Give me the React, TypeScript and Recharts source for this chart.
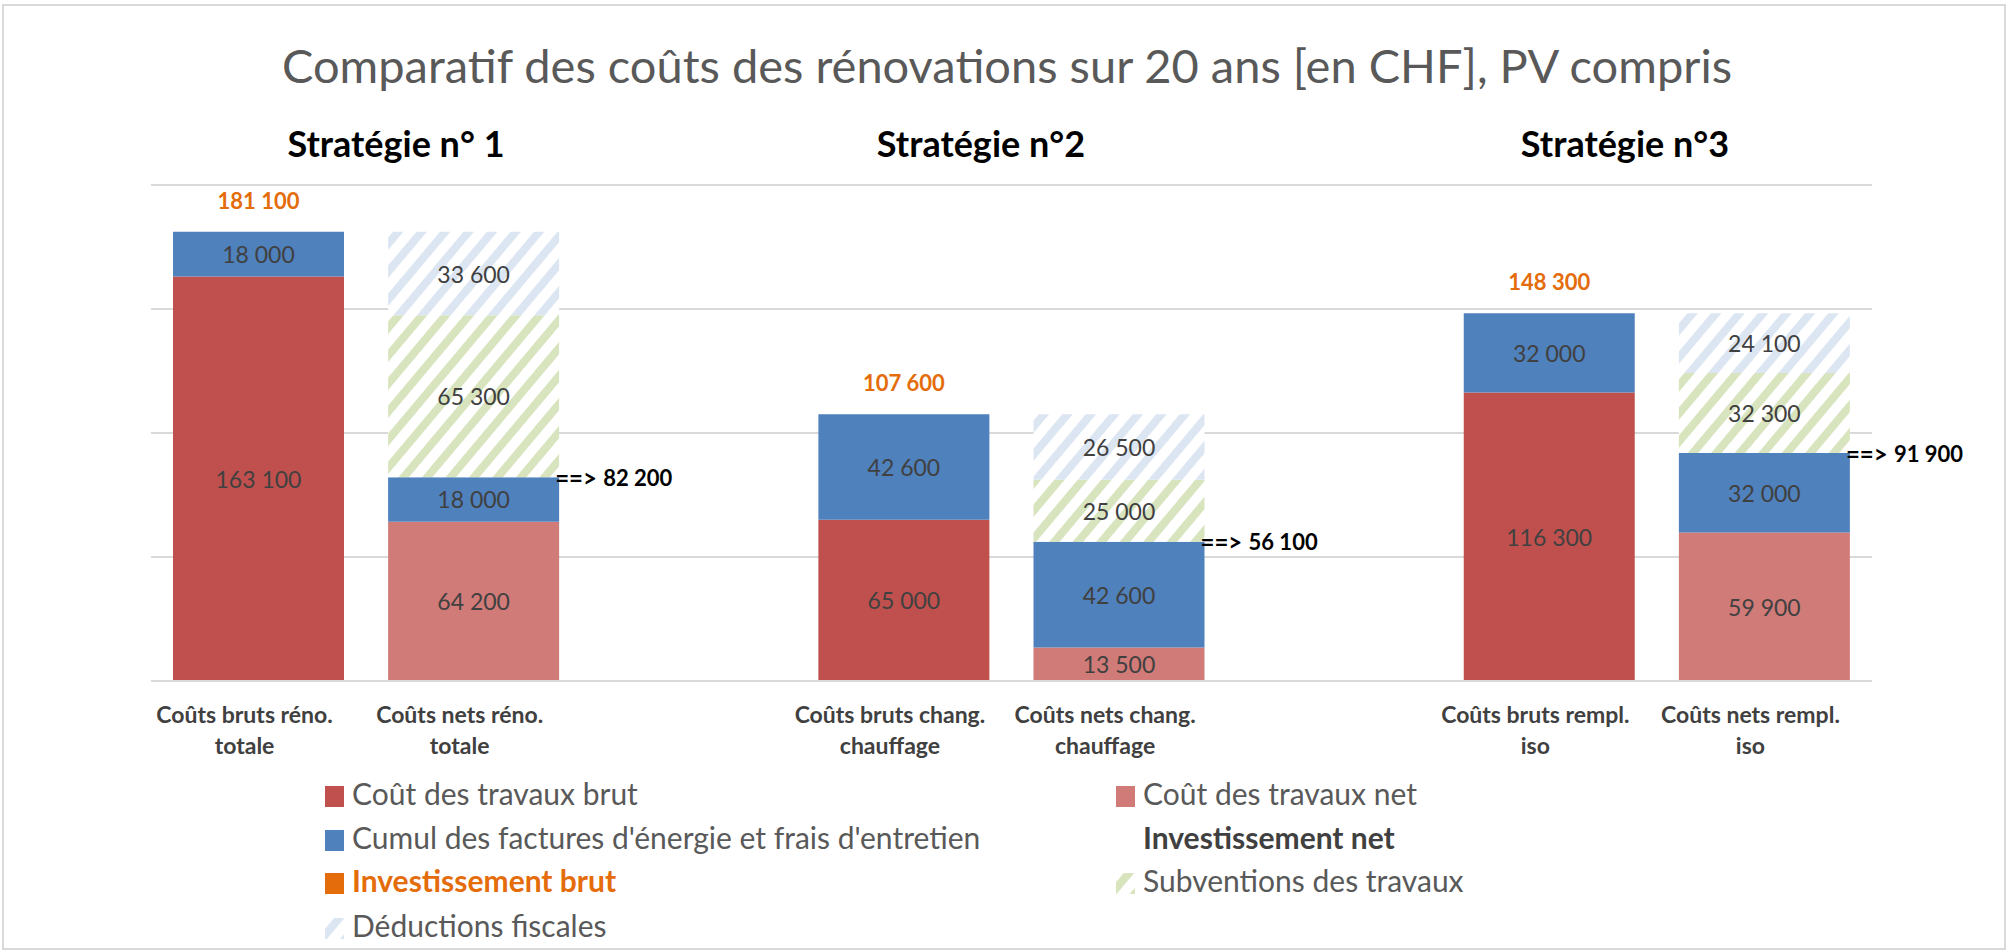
import React from 'react';
import { BarChart, Bar, XAxis, YAxis, CartesianGrid, LabelList } from 'recharts';

// catégories (les vides servent d'espace entre les stratégies)
const tickLabels = [
  ['Coûts bruts réno.', 'totale'],
  ['Coûts nets réno.', 'totale'],
  ['', ''],
  ['Coûts bruts chang.', 'chauffage'],
  ['Coûts nets chang.', 'chauffage'],
  ['', ''],
  ['Coûts bruts rempl.', 'iso'],
  ['Coûts nets rempl.', 'iso'],
];

const travauxBrut = [163100, null, null, 65000, null, null, 116300, null];
const travauxNet = [null, 64200, null, null, 13500, null, null, 59900];
const cumulFactures = [18000, 18000, null, 42600, 42600, null, 32000, 32000];
const subventions = [null, 65300, null, null, 25000, null, null, 32300];
const deductions = [null, 33600, null, null, 26500, null, null, 24100];
const investBrut = [181100, null, null, 107600, null, null, 148300, null];
const investNet = [null, 82200, null, null, 56100, null, null, 91900];

const strategies = ['Stratégie n° 1', 'Stratégie n°2', 'Stratégie n°3'];
const yTicks = [0, 50000, 100000, 150000, 200000];

const title = 'Comparatif des coûts des rénovations sur 20 ans [en CHF], PV compris';

const legendItems = [
  { label: 'Coût des travaux brut', fill: '#C0504D' },
  { label: 'Coût des travaux net', fill: '#D17B79' },
  { label: "Cumul des factures d'énergie et frais d'entretien", fill: '#4F81BD' },
  { label: 'Investissement net', fill: 'none', bold: true, color: '#404040' },
  { label: 'Investissement brut', fill: '#E46C0A', bold: true, color: '#E46C0A' },
  { label: 'Subventions des travaux', fill: 'url(#hatchGreen)' },
  { label: 'Déductions fiscales', fill: 'url(#hatchBlue)' },
];

const data = tickLabels.map((t, i) => ({
  name: t.join(' '),
  travauxBrut: travauxBrut[i],
  travauxNet: travauxNet[i],
  cumul: cumulFactures[i],
  subventions: subventions[i],
  deductions: deductions[i],
  investBrut: investBrut[i],
  investNet: investNet[i],
}));

const FONT = 'Lato, "Open Sans", sans-serif';

const fmt = (v: number) => String(v).replace(/\B(?=(\d{3})+(?!\d))/g, ' ');

const ValueLabel = (props: any) => {
  const { x, y, width, height, value } = props;
  if (value == null || !value) return null;
  return (
    <text
      x={x + width / 2}
      y={y + height / 2}
      textAnchor="middle"
      dominantBaseline="central"
      fontFamily={FONT}
      fontSize={23}
      fill="#404040"
    >
      {fmt(value)}
    </text>
  );
};

const BrutLabel = (props: any) => {
  const { x, y, width, value } = props;
  if (value == null) return null;
  return (
    <text x={x + width / 2} y={y - 23} textAnchor="middle" fontFamily={FONT} fontSize={22} fontWeight={700} fill="#E46C0A">
      {fmt(value)}
    </text>
  );
};

const NetLabel = (props: any) => {
  const { x, y, width, value } = props;
  if (value == null) return null;
  return (
    <g fontFamily={FONT} fontSize={22} fontWeight={700} fill="#000">
      <text x={x + width - 4} y={y} dominantBaseline="central" fontSize={24}>==&gt;</text>
      <text x={x + width + 44} y={y} dominantBaseline="central">{fmt(value)}</text>
    </g>
  );
};

const Tick = (props: any) => {
  const { x, y, index } = props;
  const lines = tickLabels[index] || ['', ''];
  return (
    <g fontFamily={FONT} fontSize={23} fontWeight={700} fill="#404040" textAnchor="middle">
      <text x={x - 14} y={y + 34}>{lines[0]}</text>
      <text x={x - 14} y={y + 65}>{lines[1]}</text>
    </g>
  );
};

export default function App() {
  const legendCols = [325, 1116];
  const legendRows = [805, 849, 892, 937];
  const legendPos = [
    [0, 0], [1, 0], [0, 1], [1, 1], [0, 2], [1, 2], [0, 3],
  ];
  const headingX = [396, 981, 1625];

  return (
    <div style={{ position: 'absolute', left: 0, top: 0, width: 2010, height: 952, background: '#fff' }}>
      <svg width={2010} height={952} style={{ position: 'absolute', left: 0, top: 0 }}>
        <defs>
          <pattern id="hatchGreen" patternUnits="userSpaceOnUse" width="18" height="18" patternTransform="rotate(40)">
            <rect width="18" height="18" fill="#fff" />
            <rect width="8" height="18" fill="#D7E4BD" />
          </pattern>
          <pattern id="hatchBlue" patternUnits="userSpaceOnUse" width="18" height="18" patternTransform="rotate(40)">
            <rect width="18" height="18" fill="#fff" />
            <rect width="8" height="18" fill="#DCE6F2" />
          </pattern>
        </defs>
        <rect x={3} y={5} width={2002} height={944} fill="#fff" stroke="#D9D9D9" strokeWidth={2} />
      </svg>
      <div style={{ position: 'absolute', left: 0, top: 0 }}>
        <BarChart
          width={2010}
          height={952}
          data={data}
          margin={{ top: 185, right: 138, left: 151, bottom: 211 }}
          barSize={171}
        >
          <CartesianGrid vertical={false} stroke="#D9D9D9" strokeWidth={2} />
          <YAxis hide domain={[0, 200000]} ticks={yTicks} />
          <XAxis
            dataKey="name"
            height={60}
            interval={0}
            tickLine={false}
            axisLine={{ stroke: '#D9D9D9', strokeWidth: 2 }}
            tick={<Tick />}
          />
          <Bar dataKey="travauxBrut" stackId="a" fill="#C0504D" isAnimationActive={false}>
            <LabelList dataKey="travauxBrut" content={<ValueLabel />} />
          </Bar>
          <Bar dataKey="travauxNet" stackId="a" fill="#D17B79" isAnimationActive={false}>
            <LabelList dataKey="travauxNet" content={<ValueLabel />} />
          </Bar>
          <Bar dataKey="cumul" stackId="a" fill="#4F81BD" isAnimationActive={false}>
            <LabelList dataKey="cumul" content={<ValueLabel />} />
            <LabelList dataKey="investBrut" content={<BrutLabel />} />
            <LabelList dataKey="investNet" content={<NetLabel />} />
          </Bar>
          <Bar dataKey="subventions" stackId="a" fill="url(#hatchGreen)" isAnimationActive={false}>
            <LabelList dataKey="subventions" content={<ValueLabel />} />
          </Bar>
          <Bar dataKey="deductions" stackId="a" fill="url(#hatchBlue)" isAnimationActive={false}>
            <LabelList dataKey="deductions" content={<ValueLabel />} />
          </Bar>
        </BarChart>
      </div>
      <svg width={2010} height={952} style={{ position: 'absolute', left: 0, top: 0, pointerEvents: 'none' }}>
        <text x={1007} y={83} textAnchor="middle" fontFamily={FONT} fontSize={47} fill="#595959">
          {title}
        </text>
        {strategies.map((s, i) => (
          <text key={s} x={headingX[i]} y={157} textAnchor="middle" fontFamily={FONT} fontSize={36} fontWeight={700} fill="#000">
            {s}
          </text>
        ))}
        {legendItems.map((item, i) => {
          const [c, r] = legendPos[i];
          const mx = legendCols[c];
          const by = legendRows[r];
          return (
            <g key={item.label}>
              {item.fill !== 'none' && <rect x={mx} y={by - 19} width={19} height={21} fill={item.fill} />}
              <text
                x={mx + 27}
                y={by}
                fontFamily={FONT}
                fontSize={30}
                fontWeight={item.bold ? 700 : 400}
                fill={item.color || '#595959'}
              >
                {item.label}
              </text>
            </g>
          );
        })}
      </svg>
    </div>
  );
}
